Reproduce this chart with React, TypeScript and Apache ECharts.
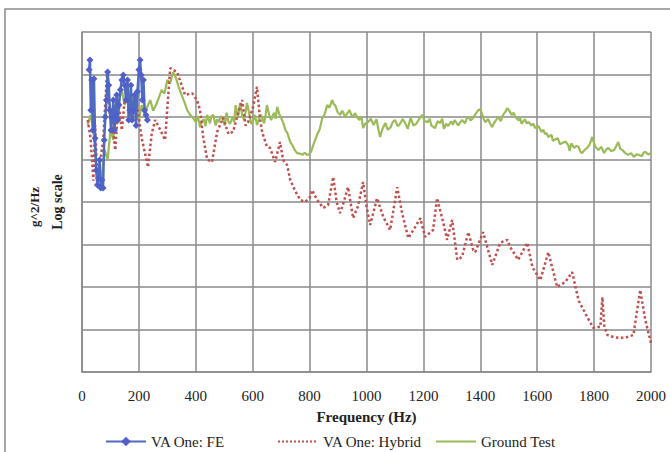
import React, { useEffect, useRef } from "react";
import * as echarts from "echarts";

// x: frequency (Hz); y: level in decades above the bottom gridline (log scale, 8 decades shown)
const xTicks = [0, 200, 400, 600, 800, 1000, 1200, 1400, 1600, 1800, 2000];
const seriesNames = ["VA One: FE", "VA One: Hybrid", "Ground Test"];

const feData: [number, number][] = [
  [25, 7.11], [28, 7.34], [31, 6.16], [34, 6.87], [38, 5.69], [42, 6.9], [46, 5.5], [50, 4.75], [54, 4.40], [58, 4.56],
  [62, 4.99], [66, 4.33], [70, 4.52], [74, 4.33], [78, 5.46], [82, 6.0], [86, 6.40], [90, 7.06], [94, 6.75], [98, 6.16],
  [102, 5.69], [106, 5.98], [110, 6.40], [114, 5.69], [118, 6.05], [122, 6.52], [126, 5.93], [130, 6.28], [135, 6.64],
  [140, 6.87], [145, 6.99], [150, 6.75], [155, 6.40], [160, 6.87], [164, 5.93], [168, 6.16], [172, 6.75], [176, 5.93],
  [180, 6.16], [185, 6.52], [190, 5.8], [195, 6.6], [200, 7.11], [204, 7.34], [208, 6.99], [212, 6.40], [216, 6.87],
  [220, 6.16], [225, 6.05], [230, 5.93]
];

const hybridData: [number, number][] = [
  [20, 5.93], [30, 5.5], [40, 4.5], [46, 5.81], [55, 4.40], [65, 5.0], [75, 5.5], [88, 7.06], [95, 6.2], [109, 5.69],
  [117, 5.22], [128, 6.33], [140, 5.69], [150, 6.4], [162, 6.33], [175, 5.9], [193, 6.3], [210, 5.5], [232, 4.82],
  [245, 5.6], [257, 5.93], [275, 5.7], [292, 5.46], [310, 7.15], [334, 7.06], [362, 6.52], [387, 6.56], [404, 6.40],
  [415, 6.16], [426, 5.53], [440, 5.0], [457, 4.94], [475, 5.65], [496, 5.98], [515, 5.6], [531, 5.65], [545, 6.0],
  [563, 6.40], [575, 5.8], [584, 5.88], [600, 6.2], [615, 6.71], [625, 6.0], [633, 5.65], [650, 5.3], [661, 5.27],
  [679, 4.94], [696, 5.41], [707, 4.99], [721, 4.87], [732, 4.52], [750, 4.25], [767, 4.05], [784, 4.00], [800, 4.1],
  [809, 4.28], [826, 4.05], [848, 3.86], [865, 3.93], [883, 4.59], [895, 4.0], [907, 3.74], [920, 4.0], [935, 4.35],
  [953, 3.62], [970, 3.9], [988, 4.47], [1000, 3.9], [1013, 3.46], [1037, 4.09], [1059, 3.65], [1083, 3.34],
  [1108, 4.35], [1125, 3.74], [1147, 3.15], [1170, 3.4], [1189, 3.62], [1206, 3.18], [1234, 3.34], [1248, 4.09],
  [1270, 3.51], [1283, 3.11], [1301, 3.58], [1319, 2.64], [1336, 2.71], [1358, 3.29], [1375, 2.87], [1382, 2.82],
  [1410, 3.29], [1442, 2.52], [1470, 3.04], [1495, 3.11], [1505, 2.94], [1533, 2.64], [1565, 3.04], [1583, 2.47],
  [1611, 2.16], [1639, 2.82], [1670, 2.00], [1699, 2.12], [1723, 2.35], [1745, 1.69], [1776, 1.29], [1797, 1.04],
  [1815, 1.06], [1822, 1.06], [1829, 1.76], [1836, 1.06], [1847, 0.87], [1870, 0.82], [1892, 0.80], [1915, 0.82],
  [1938, 0.87], [1962, 1.93], [1980, 1.22], [2000, 0.68]
];

const groundData: [number, number][] = [
  [20, 5.81], [30, 6.05], [40, 5.69], [50, 4.87], [60, 4.52], [70, 4.64], [80, 5.22], [90, 4.99], [100, 5.69],
  [110, 5.46], [120, 6.16], [130, 6.40], [140, 6.64], [150, 6.28], [160, 6.75], [170, 6.16], [180, 6.52], [190, 6.00],
  [200, 5.93], [210, 6.28], [220, 6.05], [230, 6.25], [240, 6.40], [250, 6.15], [260, 6.28], [270, 6.45], [280, 6.64],
  [290, 6.55], [300, 6.87], [310, 6.80], [320, 7.06], [330, 6.92], [340, 6.70], [350, 6.52], [360, 6.35], [370, 6.16],
  [380, 6.05], [390, 5.98], [400, 5.88], [407, 6.02], [415, 5.76], [422, 5.90], [428, 5.95], [434, 5.78], [440, 6.05],
  [450, 5.85], [455, 6.02], [461, 6.05], [470, 5.8], [475, 5.95], [480, 5.88], [488, 6.02], [496, 5.93], [502, 5.80],
  [508, 6.1], [514, 5.90], [520, 5.84], [530, 6.0], [535, 5.88], [540, 6.28], [548, 6.00], [556, 6.33], [563, 6.05],
  [570, 5.93], [575, 6.12], [580, 6.33], [590, 6.0], [595, 5.84], [600, 5.88], [608, 6.05], [615, 5.81], [622, 5.95],
  [630, 6.05], [640, 5.85], [645, 6.02], [650, 6.28], [658, 6.05], [665, 5.93], [675, 6.1], [681, 5.96], [686, 6.24],
  [693, 6.08], [700, 5.98], [708, 5.85], [715, 5.69], [722, 5.62], [732, 5.41], [740, 5.33], [748, 5.22], [756, 5.15],
  [765, 5.14], [775, 5.11], [783, 5.16], [791, 5.11], [798, 5.12], [805, 5.18], [815, 5.38], [826, 5.58], [835, 5.70],
  [845, 5.98], [852, 6.05], [862, 6.28], [870, 6.22], [879, 6.40], [885, 6.30], [890, 6.28], [898, 6.12], [907, 6.05],
  [915, 6.15], [925, 6.00], [932, 6.08], [940, 6.16], [950, 6.0], [960, 6.09], [968, 5.98], [975, 5.93], [982, 6.02],
  [988, 5.74], [995, 5.84], [1006, 5.88], [1015, 5.96], [1025, 5.81], [1035, 5.95], [1042, 5.70], [1048, 5.53],
  [1055, 5.70], [1066, 5.86], [1075, 5.7], [1085, 5.76], [1092, 5.88], [1100, 5.93], [1110, 5.78], [1118, 5.84],
  [1127, 5.95], [1136, 5.86], [1145, 5.72], [1155, 5.98], [1165, 5.8], [1175, 5.84], [1185, 5.95], [1196, 6.05],
  [1205, 5.9], [1215, 5.88], [1222, 5.96], [1228, 5.8], [1241, 5.74], [1250, 5.9], [1260, 5.86], [1266, 5.96],
  [1272, 5.72], [1280, 5.84], [1287, 5.79], [1298, 5.9], [1304, 5.82], [1310, 5.93], [1322, 5.8], [1330, 5.88],
  [1336, 5.93], [1346, 5.85], [1352, 5.96], [1358, 6.00], [1366, 5.92], [1375, 5.98], [1384, 6.08], [1393, 6.16],
  [1400, 6.18], [1405, 6.1], [1412, 5.95], [1417, 5.88], [1428, 5.95], [1436, 5.82], [1442, 5.76], [1448, 5.86],
  [1453, 5.9], [1463, 6.00], [1472, 5.9], [1480, 6.05], [1488, 6.12], [1495, 6.21], [1502, 6.15], [1510, 6.05],
  [1517, 6.10], [1523, 6.00], [1535, 5.92], [1540, 5.98], [1545, 5.84], [1557, 5.95], [1563, 5.85], [1569, 5.88],
  [1580, 5.8], [1586, 5.84], [1593, 5.74], [1605, 5.78], [1615, 5.65], [1622, 5.70], [1627, 5.6], [1633, 5.62],
  [1639, 5.53], [1650, 5.58], [1655, 5.44], [1660, 5.46], [1672, 5.5], [1680, 5.36], [1688, 5.39], [1700, 5.42],
  [1709, 5.34], [1714, 5.20], [1720, 5.38], [1730, 5.27], [1738, 5.32], [1745, 5.3], [1752, 5.18], [1758, 5.15],
  [1766, 5.22], [1775, 5.27], [1784, 5.35], [1794, 5.53], [1800, 5.38], [1805, 5.3], [1815, 5.22], [1825, 5.3],
  [1835, 5.15], [1843, 5.24], [1850, 5.27], [1860, 5.2], [1870, 5.22], [1878, 5.32], [1885, 5.41], [1892, 5.25],
  [1900, 5.22], [1910, 5.15], [1920, 5.11], [1930, 5.15], [1940, 5.06], [1948, 5.12], [1956, 5.11], [1968, 5.08],
  [1974, 5.16], [1980, 5.18], [1990, 5.12], [2000, 5.15]
];

const FONT = "Liberation Serif";

export default function App() {
  const ref = useRef<HTMLDivElement>(null);
  useEffect(() => {
    if (!ref.current) return;
    const chart = echarts.init(ref.current, null, { renderer: "svg" });
    const legendBase = {
      top: 429,
      itemWidth: 40,
      itemHeight: 12,
      itemGap: 4,
      textStyle: { fontFamily: FONT, fontSize: 15, color: "#222" },
      selectedMode: false as const,
    };
    chart.setOption({
      animation: false,
      backgroundColor: "#ffffff",
      textStyle: { fontFamily: FONT },
      grid: { left: 82, right: 19, top: 32, bottom: 80, containLabel: false, show: false },
      graphic: [
        {
          type: "rect",
          shape: { x: 5, y: 9, width: 700, height: 500 },
          style: { fill: "none", stroke: "#8a8a8a", lineWidth: 1.5 },
          silent: true,
          z: -1,
        },
        {
          type: "text",
          x: 34,
          y: 207,
          rotation: Math.PI / 2,
          style: {
            text: "g^2/Hz",
            fontFamily: FONT,
            fontSize: 13,
            fontWeight: "bold",
            fill: "#222",
            align: "center",
            verticalAlign: "middle",
          },
        },
      ],
      legend: [
        { ...legendBase, left: 100, data: [seriesNames[0]] },
        { ...legendBase, left: 272, data: [{ name: seriesNames[1], itemStyle: { opacity: 0 } }] },
        { ...legendBase, left: 430, data: [{ name: seriesNames[2], itemStyle: { opacity: 0 } }] },
      ],
      xAxis: {
        type: "value",
        min: 0,
        max: 2000,
        interval: 200,
        name: "Frequency (Hz)",
        nameLocation: "middle",
        nameGap: 37,
        nameTextStyle: { fontFamily: FONT, fontSize: 15, fontWeight: "bold", color: "#222" },
        axisLine: { show: true, lineStyle: { color: "#8a8a8a", width: 1.5 } },
        axisTick: { show: false },
        axisLabel: {
          fontFamily: FONT,
          fontSize: 15,
          color: "#222",
          margin: 16,
          formatter: (v: number) => (xTicks.includes(v) ? String(v) : ""),
        },
        splitLine: { show: true, lineStyle: { color: "#8a8a8a", width: 1.5 } },
      },
      yAxis: {
        type: "value",
        min: 0,
        max: 8,
        interval: 1,
        name: "Log scale",
        nameLocation: "middle",
        nameGap: 18,
        nameRotate: 90,
        nameTextStyle: { fontFamily: FONT, fontSize: 14, fontWeight: "bold", color: "#222" },
        axisLine: { show: true, lineStyle: { color: "#8a8a8a", width: 1.5 } },
        axisTick: { show: false },
        axisLabel: { show: false },
        splitLine: { show: true, lineStyle: { color: "#8a8a8a", width: 1.5 } },
      },
      series: [
        {
          name: seriesNames[2],
          type: "line",
          data: groundData,
          showSymbol: false,
          symbol: "none",
          z: 2,
          lineStyle: { color: "#9bbb59", width: 2.2 },
          itemStyle: { color: "#9bbb59" },
        },
        {
          name: seriesNames[1],
          type: "line",
          data: hybridData,
          symbol: "none",
          z: 3,
          lineStyle: { color: "#c0504d", width: 2.5, type: "dotted" },
          itemStyle: { color: "#c0504d" },
        },
        {
          name: seriesNames[0],
          type: "line",
          data: feData,
          symbol: "diamond",
          symbolSize: 7,
          z: 4,
          lineStyle: { color: "#4f6bc0", width: 2.5 },
          itemStyle: { color: "#5060c8" },
        },
      ],
    });
    return () => chart.dispose();
  }, []);
  return (
    <div
      ref={ref}
      style={{ position: "fixed", left: 0, top: 0, width: 670, height: 452, background: "#fff" }}
    />
  );
}
